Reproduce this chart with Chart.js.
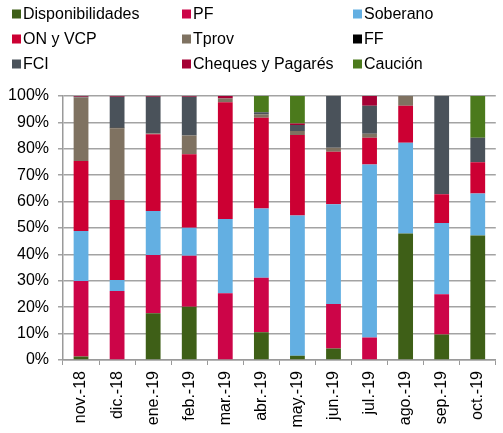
<!DOCTYPE html>
<html>
<head>
<meta charset="utf-8">
<script src="https://cdn.jsdelivr.net/npm/chart.js@4/dist/chart.umd.min.js"></script>
<style>
    html, body { margin: 0; padding: 0; background: #fff; }
    #chart { display: block; }
</style>
</head>
<body>
<canvas id="chart" width="503" height="433"></canvas>
<script>
// categories (months)
const months = ["nov.-18", "dic.-18", "ene.-19", "feb.-19", "mar.-19", "abr.-19",
                "may.-19", "jun.-19", "jul.-19", "ago.-19", "sep.-19", "oct.-19"];

// share of each instrument, % of the month total
const disponibilidades = [1.3, 0, 17.7, 20.2, 0, 10.5, 1.6, 4.4, 0, 47.9, 9.7, 47.2];
const pf               = [28.6, 26.1, 22.1, 19.3, 25.3, 20.7, 0, 16.8, 8.5, 0, 15.2, 0];
const soberano         = [19, 4.2, 16.6, 10.6, 28.1, 26.2, 53.1, 37.8, 65.6, 34.4, 27, 15.9];
const onVcp            = [26.5, 30.3, 29.1, 27.8, 44.2, 34.4, 30.5, 19.9, 10.1, 14, 10.9, 11.8];
const tprov            = [24, 27.2, 0.3, 7.1, 1.5, 1.3, 1.5, 1.5, 1.5, 3.7, 0, 0];
const ff               = [0, 0.3, 0, 0, 0, 0, 0, 0, 0, 0, 0, 0];
const fci              = [0.3, 11.6, 13.9, 14.7, 0, 0.7, 2.3, 19.6, 10.6, 0, 37.2, 9.3];
const cheques          = [0.3, 0.3, 0.3, 0.3, 0.9, 0, 0.6, 0, 3.7, 0, 0, 0];
const caucion          = [0, 0, 0, 0, 0, 6.2, 10.4, 0, 0, 0, 0, 15.8];

const yTicks = [0, 10, 20, 30, 40, 50, 60, 70, 80, 90, 100];

const series = [
    { label: "Disponibilidades", data: disponibilidades, color: "#3e5f17" },
    { label: "PF", data: pf, color: "#cc0548" },
    { label: "Soberano", data: soberano, color: "#63afe2" },
    { label: "ON y VCP", data: onVcp, color: "#cc0033" },
    { label: "Tprov", data: tprov, color: "#7f7261" },
    { label: "FF", data: ff, color: "#000000" },
    { label: "FCI", data: fci, color: "#4a525a" },
    { label: "Cheques y Pagarés", data: cheques, color: "#a50034" },
    { label: "Caución", data: caucion, color: "#4b7a1c" },
];

const FONT = "'Liberation Sans', Arial, sans-serif";

// legend drawn as a 3-column grid above the plot
const gridLegend = {
    id: "gridLegend",
    afterDraw(chart, args, opts) {
        const ctx = chart.ctx;
        ctx.save();
        ctx.font = "16px " + FONT;
        ctx.textBaseline = "middle";
        ctx.fillStyle = "#000";
        chart.data.datasets.forEach((ds, i) => {
            const col = i % 3, row = Math.floor(i / 3);
            const x = opts.cols[col], y = opts.rows[row];
            ctx.fillStyle = ds.backgroundColor;
            ctx.fillRect(x, y - 4.5, 9, 9);
            ctx.fillStyle = "#000";
            ctx.fillText(ds.label, x + 11, y + 1);
        });
        ctx.restore();
    }
};

new Chart(document.getElementById("chart"), {
    type: "bar",
    data: {
        labels: months,
        datasets: series.map(s => ({
            label: s.label,
            data: s.data,
            backgroundColor: s.color,
            borderWidth: 0,
            barPercentage: 0.41,
            categoryPercentage: 1.0,
        })),
    },
    plugins: [gridLegend],
    options: {
        responsive: false,
        animation: false,
        layout: { padding: { top: 96, right: 1, left: 0, bottom: 0 } },
        plugins: {
            legend: { display: false },
            tooltip: { enabled: false },
            gridLegend: { cols: [12, 182, 353], rows: [14, 39, 64] },
        },
        scales: {
            x: {
                stacked: true,
                afterFit: (scale) => { scale.height = 73; },
                grid: {
                    offset: true,
                    drawOnChartArea: false,
                    drawTicks: true,
                    tickLength: 5,
                    color: "#9a9a9a",
                },
                border: { color: "#9a9a9a", width: 1.5 },
                ticks: {
                    color: "#000",
                    font: { family: FONT, size: 16 },
                    minRotation: 90,
                    maxRotation: 90,
                    autoSkip: false,
                    padding: 6,
                },
            },
            y: {
                stacked: true,
                min: 0,
                max: 100,
                afterFit: (scale) => { scale.width = 63; },
                afterBuildTicks: (scale) => { scale.ticks = yTicks.map(v => ({ value: v })); },
                grid: {
                    color: "#a3a3a3",
                    lineWidth: 1.5,
                    tickLength: 5,
                },
                border: { color: "#9a9a9a", width: 1.5 },
                ticks: {
                    color: "#000",
                    font: { family: FONT, size: 16 },
                    padding: 9,
                    callback: (v) => v + "%",
                },
            },
        },
    },
});
</script>
</body>
</html>
